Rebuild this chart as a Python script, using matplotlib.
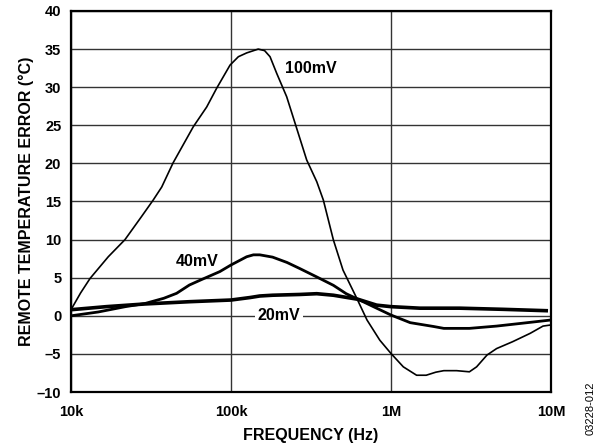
import matplotlib
matplotlib.use("Agg")
import matplotlib.pyplot as plt
import numpy as np

plt.rcParams['font.family'] = ['Liberation Sans', 'DejaVu Sans']

# log10(frequency in Hz) and error (°C)
f100_log = [4.0, 4.06, 4.119, 4.233, 4.3375, 4.44, 4.514, 4.567, 4.6375,
            4.764, 4.848, 4.91, 4.994, 5.046, 5.098, 5.17, 5.21, 5.244, 5.286,
            5.348, 5.40, 5.473, 5.536, 5.577, 5.64, 5.70, 5.786, 5.85, 5.93,
            5.998, 6.077, 6.16, 6.22, 6.28, 6.33, 6.41, 6.49, 6.535, 6.60, 6.66,
            6.76, 6.87, 6.95, 7.0]
e100 = [0.8, 3.0, 4.9, 7.75, 10.0, 13.0, 15.2, 16.9, 20.05,
        24.8, 27.4, 29.85, 32.9, 34.0, 34.5, 35.0, 34.8, 34.0, 31.8,
        28.75, 25.3, 20.45, 17.6, 15.2, 9.95, 6.0, 2.3, -0.55, -3.2,
        -4.9, -6.7, -7.8, -7.8, -7.4, -7.2, -7.2, -7.35, -6.7, -5.15, -4.3,
        -3.4, -2.3, -1.35, -1.2]

f40_log = [4.0, 4.17, 4.34, 4.46, 4.58, 4.66, 4.74, 4.81, 4.93, 5.0, 5.098,
           5.14, 5.18, 5.26, 5.35, 5.43, 5.536, 5.64, 5.72, 5.795, 5.89, 6.0,
           6.12, 6.265, 6.33, 6.49, 6.66, 6.81, 7.0]
e40 = [0.0, 0.5, 1.2, 1.6, 2.3, 2.95, 4.04, 4.7, 5.8, 6.67, 7.75,
       8.0, 8.0, 7.7, 7.0, 6.2, 5.1, 4.0, 2.9, 2.16, 1.2, 0.1,
       -0.9, -1.4, -1.65, -1.65, -1.35, -1.0, -0.55]

f20_log = [4.0, 4.22, 4.46, 4.74, 5.0, 5.12, 5.18, 5.26, 5.43, 5.536, 5.64,
           5.795, 5.91, 6.0, 6.18, 6.43, 6.70, 6.97]
e20 = [0.8, 1.2, 1.55, 1.85, 2.07, 2.4, 2.6, 2.7, 2.8, 2.9, 2.7,
       2.16, 1.4, 1.2, 1.0, 1.0, 0.85, 0.67]

x_ticks = [1e4, 1e5, 1e6, 1e7]
x_ticklabels = ['10k', '100k', '1M', '10M']
y_ticks = list(range(-10, 45, 5))
y_ticklabels = ['–10', '–5', '0', '5', '10', '15', '20', '25', '30', '35', '40']

fig = plt.figure(figsize=(6.05, 4.48), dpi=100)
ax = fig.add_axes([71/605, 1-392/448, (551-71)/605, (392-11)/448])

ax.set_xscale('log')
ax.set_xlim(1e4, 1e7)
ax.set_ylim(-10, 40)

ax.set_xticks(x_ticks)
ax.set_xticklabels(x_ticklabels, fontsize=10.5, fontweight='bold')
ax.set_yticks(y_ticks)
ax.set_yticklabels(y_ticklabels, fontsize=10.5, fontweight='bold')
ax.minorticks_off()
ax.tick_params(axis='x', length=0, pad=9)
ax.tick_params(axis='y', length=0, pad=7)
ax.grid(True, color='#333333', linewidth=1.0)
ax.set_axisbelow(True)
for s in ax.spines.values():
    s.set_linewidth(1.6)

ax.plot(10**np.array(f100_log), e100, color='black', linewidth=1.2)
ax.plot(10**np.array(f40_log), e40, color='black', linewidth=2.0)
ax.plot(10**np.array(f20_log), e20, color='black', linewidth=2.6)

ax.text(10**5.34, 32.4, '100mV', fontsize=11.5, fontweight='bold', va='center', ha='left')
ax.text(10**4.656, 7.1, '40mV', fontsize=11.5, fontweight='bold', va='center', ha='left')
ax.text(10**5.30, 0.0, '20mV', fontsize=11.5, fontweight='bold', va='center', ha='center',
        bbox=dict(facecolor='white', edgecolor='none', pad=2))

ax.set_xlabel('FREQUENCY (Hz)', fontsize=11.5, fontweight='bold', labelpad=7)
ax.set_ylabel('REMOTE TEMPERATURE ERROR (°C)', fontsize=11.5, fontweight='bold', labelpad=2)

fig.text(591/605, 1-408/448, '03228-012', rotation=90, fontsize=8, ha='center', va='center')

fig.savefig('out.png', dpi=100)
